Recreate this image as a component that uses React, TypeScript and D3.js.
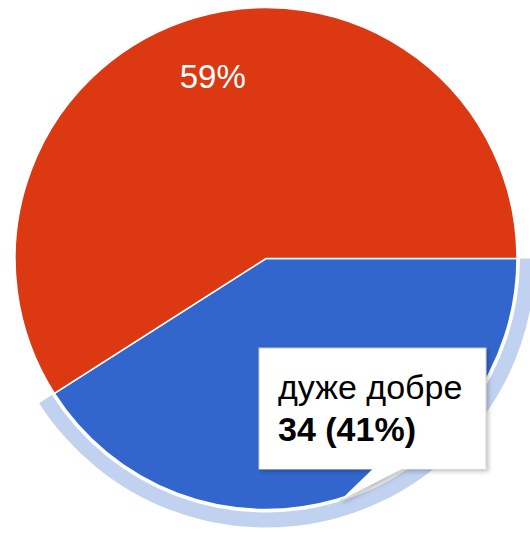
import React from "react";
import * as d3 from "d3";

const categories = ["дуже добре", "добре"];
const values = [34, 49];
const colors = ["#3366cc", "#dc3912"];
const tooltipLabel = "дуже добре";
const tooltipValue = "34 (41%)";

const W = 530;
const H = 534;
const cx = 266;
const cy = 258.5;
const R = 251;

export default function App() {
  const total = d3.sum(values);
  const pie = d3
    .pie<number>()
    .sort(null)
    .startAngle(Math.PI / 2)
    .endAngle(Math.PI / 2 + 2 * Math.PI)
    .value((d) => d);
  const arcs = pie(values);
  const arc = d3.arc<d3.PieArcDatum<number>>().innerRadius(0).outerRadius(R);
  const ring = d3.arc<d3.PieArcDatum<number>>().innerRadius(R + 3).outerRadius(R + 18);
  const labelArc = d3.arc<d3.PieArcDatum<number>>().innerRadius(190).outerRadius(190);
  const fmt = d3.format(".0%");

  // tooltip geometry
  const bx = 259, by = 348, bw = 227, bh = 121;
  const tail = `M${373},${by + bh} L${340},${501} L${403},${by + bh}`;

  return (
    <svg
      width={W}
      height={H}
      style={{ position: "absolute", left: 0, top: 0, background: "#fff" }}
      fontFamily="Arial, 'Liberation Sans', sans-serif"
    >
      <defs>
        <filter id="sh" x="-10%" y="-10%" width="130%" height="130%">
          <feDropShadow dx="2" dy="2" stdDeviation="2" floodColor="#000" floodOpacity="0.25" />
        </filter>
      </defs>
      <g transform={`translate(${cx},${cy})`}>
        <path d={ring(arcs[0]) || ""} fill="#3366cc" fillOpacity={0.3} />
        {arcs.map((a, i) => (
          <path key={categories[i]} d={arc(a) || ""} fill={colors[i]} stroke="#fff" strokeWidth={1.5} />
        ))}
        {arcs.map((a, i) => {
          if (i === 0) return null;
          const [lx, ly] = labelArc.centroid(a);
          return (
            <text
              key={"l" + i}
              x={lx}
              y={ly}
              dy="0.36em"
              textAnchor="middle"
              fill="#fff"
              fontSize={33}
            >
              {fmt(values[i] / total)}
            </text>
          );
        })}
      </g>
      <g filter="url(#sh)">
        <rect x={bx} y={by} width={bw} height={bh} fill="#fff" stroke="#cccccc" strokeWidth={1} />
        <path d={tail} fill="#fff" stroke="#cccccc" strokeWidth={1} />
        <rect x={bx + 0.5} y={by + bh - 3} width={bw - 1} height={3} fill="#fff" />
        <path d={`M${374},${by + bh - 1} L${341},${500} L${402},${by + bh - 1}Z`} fill="#fff" />
      </g>
      <text x={278} y={399} fontSize={34} fill="#000">
        {tooltipLabel}
      </text>
      <text x={278} y={441} fontSize={34} fontWeight="bold" fill="#000">
        {tooltipValue}
      </text>
    </svg>
  );
}
